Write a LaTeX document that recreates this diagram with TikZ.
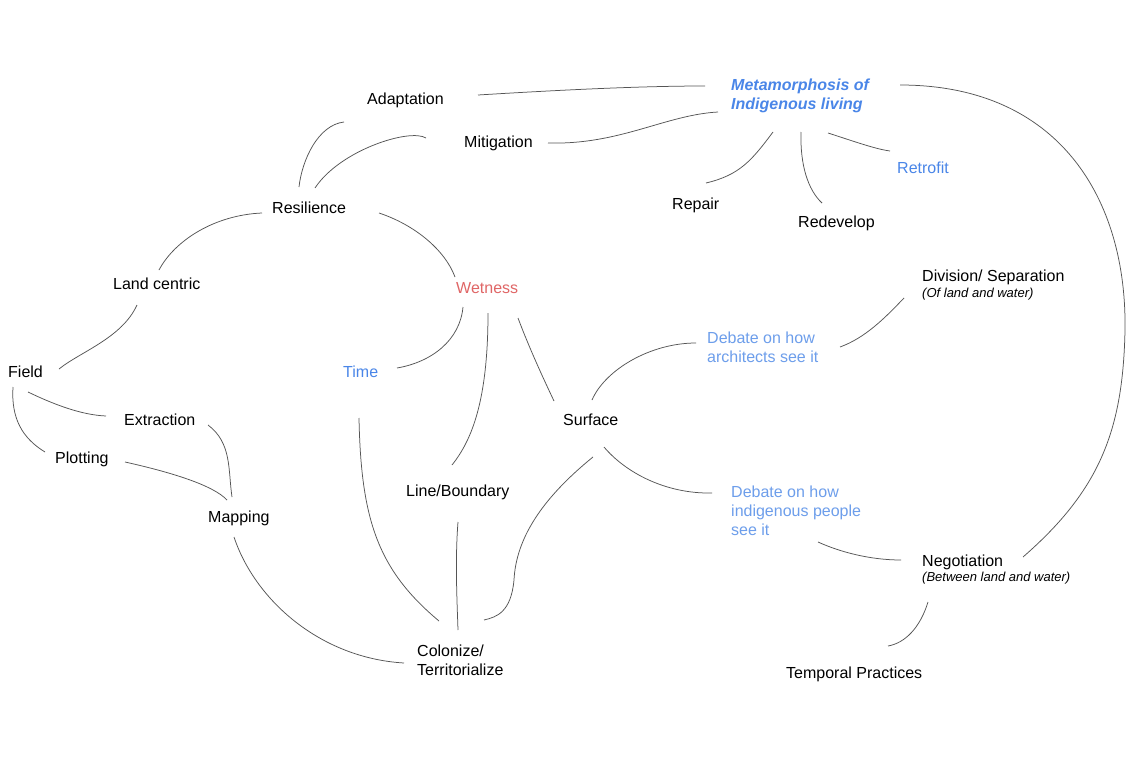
\documentclass[tikz,border=0pt]{standalone}
\usepackage{fontspec}
\setmainfont{Liberation Sans}
\definecolor{metablue}{HTML}{4A86E8}
\definecolor{midblue}{HTML}{4A86E8}
\definecolor{lightblue}{HTML}{6D9EEB}
\definecolor{wetred}{HTML}{E06666}
\definecolor{linegray}{HTML}{555555}
\tikzset{
  lbl/.style={inner sep=0pt, anchor=base west, align=left, font=\fontsize{16}{19}\selectfont, text=black},
  sub/.style={inner sep=0pt, anchor=base west, font=\fontsize{13}{16}\selectfont\itshape, text=black},
  conn/.style={draw=linegray, line width=0.75pt},
}
\begin{document}
\begin{tikzpicture}[x=1pt,y=-1pt]
\useasboundingbox[fill=white] (0,0) rectangle (1128,768);
% nodes (base west = baseline of the last line)
\node[lbl] (adapt) at (367,105) {Adaptation};
\node[lbl] (mitig) at (464,147) {Mitigation};
\node[lbl, text=metablue, font=\fontsize{16}{19}\selectfont\bfseries\itshape] (meta) at (731,110) {Metamorphosis of\\Indigenous living};
\node[lbl] (resil) at (272,213) {Resilience};
\node[lbl] (repair) at (672,209) {Repair};
\node[lbl] (redev) at (798,227) {Redevelop};
\node[lbl, text=midblue] (retro) at (897,173) {Retrofit};
\node[lbl] (landc) at (113,289) {Land centric};
\node[lbl, text=wetred] (wet) at (456,293) {Wetness};
\node[lbl] (divis) at (922,281) {Division/ Separation};
\node[sub] (divsub) at (922,297.5) {(Of land and water)};
\node[lbl] (field) at (8,377) {Field};
\node[lbl, text=midblue] (time) at (343,377) {Time};
\node[lbl, text=lightblue] (debA) at (707,362) {Debate on how\\architects see it};
\node[lbl] (extr) at (124,425) {Extraction};
\node[lbl] (surf) at (563,425) {Surface};
\node[lbl] (plot) at (55,463) {Plotting};
\node[lbl] (lineb) at (406,496) {Line/Boundary};
\node[lbl, text=lightblue] (debI) at (731,535) {Debate on how\\indigenous people\\see it};
\node[lbl] (mapp) at (208,522) {Mapping};
\node[lbl] (nego) at (922,566) {Negotiation};
\node[sub] (negosub) at (922,581.5) {(Between land and water)};
\node[lbl] (colon) at (417,675) {Colonize/\\Territorialize};
\node[lbl] (temp) at (786,678) {Temporal Practices};
\coordinate (bigbend) at (1125,330);
\coordinate (surfbend) at (514,580);
% connectors
\draw[conn] ([shift={(111,-10)}]adapt.base west) .. controls +(82,-5) and +(-65,0) .. ([shift={(-26,-24)}]meta.base west);
\draw[conn] ([shift={(27,-26)}]resil.base west) .. controls +(3,-27) and +(-26,3) .. ([shift={(-23,17)}]adapt.base west);
\draw[conn] ([shift={(43,-25)}]resil.base west) .. controls +(25,-38) and +(-16,-10) .. ([shift={(-38,-9)}]mitig.base west);
\draw[conn] ([shift={(84,-4)}]mitig.base west) .. controls +(72,2) and +(-53,3) .. ([shift={(-13,2)}]meta.base west);
\draw[conn] ([shift={(42,22)}]meta.base west) .. controls +(-21,28) and +(34,-8) .. ([shift={(34,-26)}]repair.base west);
\draw[conn] ([shift={(70,22)}]meta.base west) .. controls +(-1,33) and +(-14,-13) .. ([shift={(24,-24)}]redev.base west);
\draw[conn] ([shift={(97,23)}]meta.base west) .. controls +(25,8) and +(-15,-2) .. ([shift={(-7,-22)}]retro.base west);
\draw[conn] ([shift={(169,-25)}]meta.base west) .. controls +(160,0) and +(2,-130) .. (bigbend)
  .. controls +(-2,100) and +(77,-67) .. ([shift={(101,-9)}]nego.base west);
\draw[conn] ([shift={(-10,0)}]resil.base west) .. controls +(-47,2) and +(16,-30) .. ([shift={(46,-19)}]landc.base west);
\draw[conn] ([shift={(107,0)}]resil.base west) .. controls +(36,12) and +(-10,-27) .. ([shift={(-1,-16)}]wet.base west);
\draw[conn] ([shift={(24,16)}]landc.base west) .. controls +(-15,33) and +(21,-17) .. ([shift={(51,-8)}]field.base west);
\draw[conn] ([shift={(7,14)}]wet.base west) .. controls +(-3,33) and +(35,-6) .. ([shift={(54,-9)}]time.base west);
\draw[conn] ([shift={(20,15)}]field.base west) .. controls +(27,13) and +(-24,-1) .. ([shift={(-18,-9)}]extr.base west);
\draw[conn] ([shift={(5,10)}]field.base west) .. controls +(-2,31) and +(-23,-14) .. ([shift={(-10,-11)}]plot.base west);
\draw[conn] ([shift={(84,0)}]extr.base west) .. controls +(24,18) and +(-4,-27) .. ([shift={(24,-25)}]mapp.base west);
\draw[conn] ([shift={(70,-1)}]plot.base west) .. controls +(45,10) and +(-14,-15) .. ([shift={(19,-22)}]mapp.base west);
\draw[conn] ([shift={(26,15)}]mapp.base west) .. controls +(21,63) and +(-84,-5) .. ([shift={(-13,-12)}]colon.base west);
\draw[conn] ([shift={(16,41)}]time.base west) .. controls +(2,102) and +(-61,-51) .. ([shift={(22,-54)}]colon.base west);
\draw[conn] ([shift={(32,20)}]wet.base west) .. controls +(0,87) and +(20,-25) .. ([shift={(46,-31)}]lineb.base west);
\draw[conn] ([shift={(52,26)}]lineb.base west) .. controls +(-3,38) and +(-1,-30) .. ([shift={(41,-45)}]colon.base west);
\draw[conn] ([shift={(30,32)}]surf.base west) .. controls +(-53,43) and +(2,-40) .. (surfbend)
  .. controls +(-3,32) and +(13,-3) .. ([shift={(67,-55)}]colon.base west);
\draw[conn] ([shift={(62,25)}]wet.base west) .. controls +(12,32) and +(-9,-19) .. ([shift={(-9,-24)}]surf.base west);
\draw[conn] ([shift={(29,-25)}]surf.base west) .. controls +(13,-30) and +(-46,0) .. ([shift={(-11,-19)}]debA.base west);
\draw[conn] ([shift={(133,-15)}]debA.base west) .. controls +(25,-9) and +(-19,20) .. ([shift={(-18,17)}]divis.base west);
\draw[conn] ([shift={(41,22)}]surf.base west) .. controls +(21,25) and +(-47,1) .. ([shift={(-19,-42)}]debI.base west);
\draw[conn] ([shift={(87,7)}]debI.base west) .. controls +(22,10) and +(-31,0) .. ([shift={(-21,-6)}]nego.base west);
\draw[conn] ([shift={(6,36)}]nego.base west) .. controls +(-8,26) and +(17,-3) .. ([shift={(102,-32)}]temp.base west);
\end{tikzpicture}
\end{document}
